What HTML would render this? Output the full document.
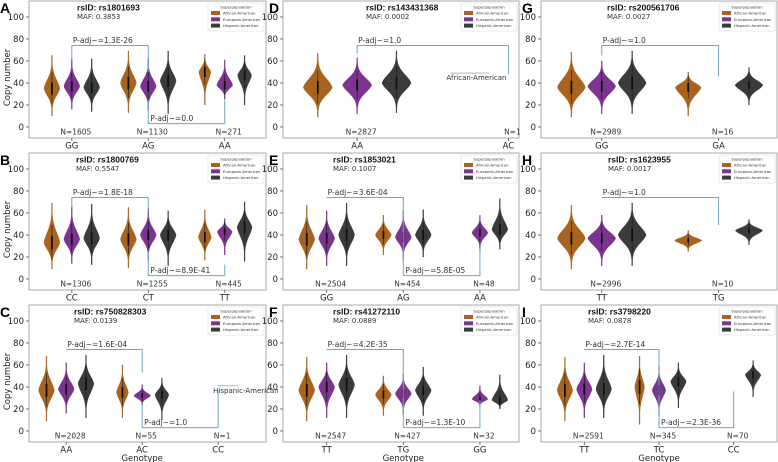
<!DOCTYPE html>
<html><head><meta charset="utf-8">
<style>
html,body{margin:0;padding:0;background:#fff;}
svg{display:block;font-family:"DejaVu Sans","Liberation Sans",sans-serif;}
</style></head>
<body>
<svg id="fig" width="778" height="462" viewBox="0 0 778 462" xmlns="http://www.w3.org/2000/svg"></svg>
<script>
const panelLetters = ["A","B","C","D","E","F","G","H","I"];
const rsIds = ["rs1801693","rs1800769","rs750828303","rs143431368","rs1853021","rs41272110","rs200561706","rs1623955","rs3798220"];
const mafs = ["0.3853","0.5547","0.0139","0.0002","0.1007","0.0889","0.0027","0.0017","0.0878"];
const genotypes = [["GG","AG","AA"],["CC","CT","TT"],["AA","AC","CC"],["AA","AC"],["GG","AG","AA"],["TT","TG","GG"],["GG","GA"],["TT","TG"],["TT","TC","CC"]];
const nCounts = [[1605,1130,271],[1306,1255,445],[2028,55,1],[2827,1],[2504,454,48],[2547,427,32],[2989,16],[2996,10],[2591,345,70]];
// violin [min, max, mode, relativeWidth]
const afr = [
 [[10,65,35,0.8],[13,69,40,0.8],[20,66,50,0.6]],
 [[9,69,33,0.8],[10,65,36,0.8],[17,63,38,0.65]],
 [[9,68,37,0.8],[12,60,35,0.6],null],
 [[9,67,36,0.74],null],
 [[9,67,36,0.8],[22,58,40,0.8],null],
 [[9,67,37,0.8],[14,50,33,0.8],null],
 [[9,68,36,0.92],[10,50,36,0.85]],
 [[9,67,37,0.92],[25,44,35,0.9]],
 [[9,67,37,0.8],[6,68,40,0.5],null]];
const eur = [
 [[16,62,37,0.8],[15,62,37,0.8],[25,61,38,0.8]],
 [[14,66,36,0.8],[17,64,40,0.8],[22,55,43,0.75]],
 [[16,62,38,0.8],[23,42,32,0.85],null],
 [[12,63,38,0.74],null],
 [[12,62,37,0.8],[18,62,38,0.8],[26,58,42,0.8]],
 [[12,62,40,0.8],[15,52,34,0.8],[22,41,29,0.8]],
 [[12,60,37,0.92],null],
 [[12,58,37,0.92],null],
 [[12,62,38,0.8],[14,59,37,0.7],null]];
const his = [
 [[14,62,36,0.8],[12,69,42,0.8],[20,65,47,0.7]],
 [[13,68,37,0.8],[12,62,40,0.8],[16,70,47,0.75]],
 [[12,69,43,0.8],[10,48,33,0.7],null],
 [[13,69,40,0.74],null],
 [[12,69,40,0.8],[20,63,40,0.8],[27,73,45,0.8]],
 [[12,69,42,0.8],[14,58,37,0.8],[20,51,28,0.8]],
 [[12,69,40,0.92],[20,54,38,0.92]],
 [[12,69,40,0.92],[31,54,44,0.9]],
 [[12,69,38,0.8],[21,62,45,0.8],[31,64,51,0.8]]];
const pTop = ["1.3E-26","1.8E-18","1.6E-04","1.0","3.6E-04","4.2E-35","1.0","1.0","2.7E-14"];
const pBottom = ["0.0","8.9E-41","1.0",null,"5.8E-05","1.3E-10",null,null,"2.3E-36"];
const topLegs = [[61,50],[65,61],[74,53],[67,48],[74,3],[74,3],[65,46],[74,49],[74,3]];
const botLegs = [[25,24],[25,13],[25,37],null,[3,28],[3,28],null,null,[3,36]];
const singleLabels = [null,null,"Hispanic-American","African-American",null,null,null,null,null];
const singleLevels = [null,null,37,45,null,null,null,null,null];

const NS="http://www.w3.org/2000/svg";
const svg=document.getElementById('fig');
const cols=[{l:29,r:266},{l:283,r:519},{l:541,r:777}];
const rowTops=[1,153,305];
const xlims=[[-0.56,2.54],[-0.56,2.54],[-0.49,2.63],[-0.49,1.07],[-0.57,2.51],[-0.57,2.51],[-0.52,1.5],[-0.52,1.5],[-0.58,2.58]];
const titleOff=[48,47,45,83,50,50,66,67,47];
const colors=["#a8641f","#7c3490","#3b3b3b"];
const hueNames=["African-American","European-American","Hispanic-American"];

function mk(tag,attrs,parent){const e=document.createElementNS(NS,tag);for(const k in attrs)e.setAttribute(k,attrs[k]);(parent||svg).appendChild(e);return e;}
function txt(s,attrs,parent){const e=mk('text',attrs,parent);e.textContent=s;return e;}

for(let p=0;p<9;p++){
  const c=Math.floor(p/3), r=p%3;
  const L=cols[c].l, R=cols[c].r, T=rowTops[r], B=T+137;
  const [x0,x1]=xlims[p];
  const X=v=>L+(v-x0)/(x1-x0)*(R-L);
  const Y=v=>T+(114.5-v)*1.1;
  const sp=X(1)-X(0);
  const g=mk('g',{});
  
  
  const fr=mk('rect',{x:L,y:T,width:R-L,height:137,fill:'none',stroke:'#a8a8a8','stroke-width':1},g);
  
  
  for(let v=0;v<=100;v+=20){
    mk('line',{x1:L-3,x2:L,y1:Y(v),y2:Y(v),stroke:'#555','stroke-width':0.8},g);
    const t=txt(String(v),{x:L-5,y:Y(v)+3,'font-size':8.5,'text-anchor':'end',fill:'#222'},g);
    
    
  }
  genotypes[p].forEach((gt,i)=>{
    mk('line',{x1:X(i),x2:X(i),y1:B,y2:B+3,stroke:'#555','stroke-width':0.8},g);
    const t=txt(gt,{x:X(i),y:B+10.5,'font-size':8.5,'text-anchor':'middle',fill:'#222'},g);
    
    
    const n=txt('N='+nCounts[p][i],{x:X(i)+4,y:Y(-4)+3,'font-size':7.5,'text-anchor':'middle',fill:'#333'},g);
    
    
  });
  [afr,eur,his].forEach((arr,h)=>{
    arr[p].forEach((vd,i)=>{
      if(!vd) return;
      const [lo,hi,mode,w]=vd;
      const cx=X(i+(h-1)*0.26);
      const hw=0.13*sp*w;
      const steps=80;const left=[],right=[];
      for(let k=0;k<=steps;k++){
        const v=lo+(hi-lo)*k/steps;
        const s=(v<mode?(mode-lo):(hi-mode))/3.6;
        const z=Math.abs(v-mode)/s;
        const f=0.75*Math.exp(-0.5*z*z)+0.25*Math.exp(-0.9*z);
        const ww=Math.max(0.4,hw*f);
        left.push((cx-ww).toFixed(2)+','+Y(v).toFixed(2));
        right.unshift((cx+ww).toFixed(2)+','+Y(v).toFixed(2));
      }
      const poly=mk('polygon',{points:left.concat(right).join(' '),fill:colors[h],stroke:colors[h],'stroke-width':0.4},g);
      
      
      const rng=hi-lo;
      mk('line',{x1:cx,x2:cx,y1:Y(mode-rng*0.25),y2:Y(mode+rng*0.27),stroke:'#1a1a1a','stroke-width':0.6},g);
      mk('line',{x1:cx,x2:cx,y1:Y(mode-rng*0.1),y2:Y(mode+rng*0.1),stroke:'#111','stroke-width':1.8},g);
    });
  });
  if(singleLabels[p]){
    const lv=singleLevels[p];
    const sx=X(genotypes[p].length-1)-(p===3?62:5);
    mk('line',{x1:sx+4,x2:sx+(p===3?42:25),y1:Y(lv+4),y2:Y(lv+4),stroke:'#888','stroke-width':0.6},g);
    const t=txt(singleLabels[p],{x:sx,y:Y(lv)+2.5,'font-size':7,fill:'#333'},g);
    
    
  }
  const bc='#6fa7c2';
  const tl=topLegs[p];
  const b1=mk('polyline',{points:`${X(0)},${Y(tl[0])} ${X(0)},${Y(74)} ${X(1)},${Y(74)} ${X(1)},${Y(tl[1])}`,fill:'none',stroke:bc,'stroke-width':1},g);
  
  
  const t1=txt('P-adj~=' + pTop[p],{x:X(0)+1,y:Y(74)-2.5,'font-size':7.5,fill:'#333'},g);
  
  
  if(pBottom[p]){
    const bl=botLegs[p];
    const b2=mk('polyline',{points:`${X(1)},${Y(bl[0])} ${X(1)},${Y(3)} ${X(2)},${Y(3)} ${X(2)},${Y(bl[1])}`,fill:'none',stroke:bc,'stroke-width':1},g);
    
    
    const t2=txt('P-adj~=' + pBottom[p],{x:X(1)+2,y:Y(3)-2.5,'font-size':7.5,fill:'#333'},g);
    
    
  }
  const tt=txt('rsID: '+rsIds[p],{x:L+titleOff[p],y:T+9.5,'font-size':8.5,'font-weight':'bold',fill:'#111','font-family':'Liberation Sans, sans-serif'},g);
  
  
  const mt=txt('MAF: '+mafs[p],{x:L+titleOff[p],y:T+18,'font-size':7,fill:'#333'},g);
  
  
  const lg=mk('g',{},g);
  
  
  const lx=R-58, ly=T+2;
  mk('rect',{x:lx,y:ly,width:56,height:28,fill:'#fff',stroke:'#ddd','stroke-width':0.6,rx:1.5},lg);
  txt('Superpopulation',{x:lx+28,y:ly+5.5,'font-size':3.8,'text-anchor':'middle',fill:'#333'},lg);
  hueNames.forEach((hn,h)=>{
    const sw=mk('rect',{x:lx+3,y:ly+8+h*6.3,width:9,height:4,fill:colors[h]},lg);
    
    
    const lt=txt(hn,{x:lx+15,y:ly+11.5+h*6.3,'font-size':3.8,fill:'#333'},lg);
    
    
  });
  const pl=txt(panelLetters[p],{x:c===0?0:(c===1?L-14:L-19),y:T+12,'font-size':14,'font-weight':'bold',fill:'#000','font-family':'Liberation Sans, sans-serif'},g);
  
  
  if(c===0){
    const yl=txt('Copy number',{x:0,y:0,'font-size':8.5,'text-anchor':'middle',fill:'#222',transform:`translate(10,${Y(45)}) rotate(-90)`},g);
    
    
  }
  if(r===2){
    const xl=txt('Genotype',{x:X(1),y:B+19,'font-size':8.5,'text-anchor':'middle',fill:'#222'},g);
    
    
  }
}
</script>
</body></html>
